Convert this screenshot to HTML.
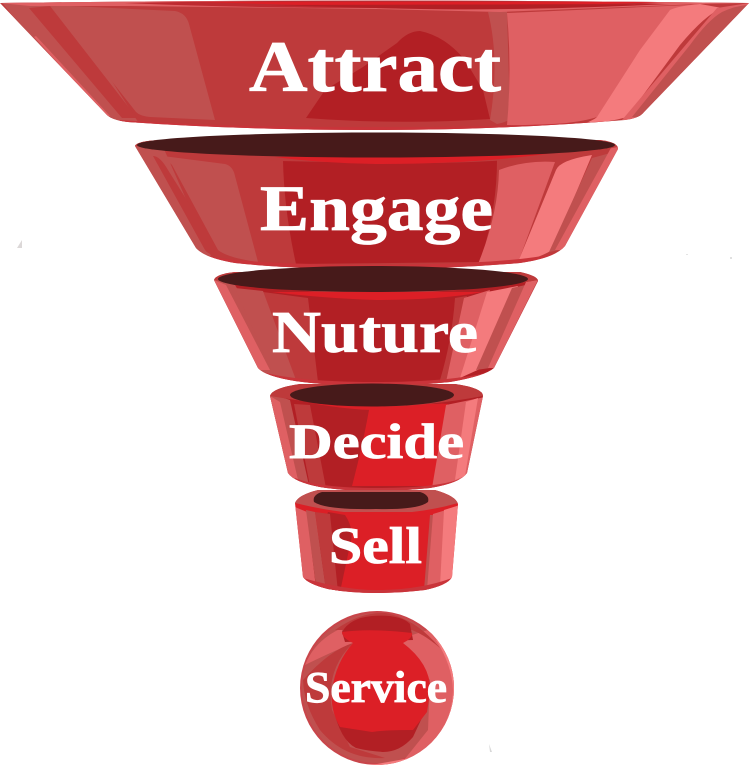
<!DOCTYPE html>
<html><head><meta charset="utf-8">
<style>
html,body{margin:0;padding:0;background:#fff}
svg{display:block}
text{font-family:"Liberation Serif",serif;font-weight:bold;fill:#fff;stroke:#fff;stroke-width:.8px}
</style></head>
<body>
<svg width="749" height="766" viewBox="0 0 749 766" xmlns="http://www.w3.org/2000/svg">
<defs>
<clipPath id="a"><path d="M0 3 Q375 -2 749 3 L644 112 Q640 118 625 120 Q500 130 376 130 Q240 130 128 122 Q112 120 107 115 Z"/></clipPath>
<clipPath id="b"><path d="M135 146 Q137 141 160 140 L600 140 Q618 142 618 149 L565 246 Q555 258 520 263 Q450 269 376 269 Q290 269 235 263 Q205 258 196 248 Z"/></clipPath>
<clipPath id="c"><path d="M214 280 Q216 274 235 272 L520 272 Q538 276 538 281 L494 368 Q485 376 450 382 Q410 386 376 386 Q330 386 295 381 Q265 376 258 368 Z"/></clipPath>
<clipPath id="d"><path d="M270 396 Q272 388 300 384 L455 384 Q483 388 483 396 L467 473 Q460 483 430 488 Q400 491 376 491 Q345 491 320 487 Q294 482 288 473 Z"/></clipPath>
<clipPath id="e"><path d="M295 503 Q298 495 318 490 L435 490 Q456 496 458 504 L452 577 Q448 585 425 590 Q400 593 376 593 Q350 593 328 589 Q308 584 303 577 Z"/></clipPath>
<clipPath id="f"><circle cx="377" cy="688" r="77"/></clipPath>
</defs>

<!-- specks -->
<path d="M22 240 L22 248 L17 248 Z" fill="#dcd8d8"/>
<path d="M489 744 L492 752 L490 752 Z" fill="#d8d8d8"/>
<rect x="686" y="254" width="2" height="1" fill="#e4e4e4"/>
<rect x="730" y="257" width="2" height="2" fill="#e0e0e0"/>

<!-- ATTRACT -->
<g clip-path="url(#a)">
<rect width="749" height="135" fill="#be3a3b"/>
<path d="M0 0 L60 0 L140 125 L100 125 Z" fill="#c0504f"/>
<path d="M36 36 L110 116 L106 116 L34 37 Z" fill="#df6063"/>
<path d="M29 8 L50 6 L137 118 L122 118 Z" fill="#be3a3b"/>
<path d="M50 5 L175 11 Q186 13 189 24 L215 120 L150 117 Q140 116 136 112 L70 28 Z" fill="#c0504f"/>
<path d="M306 118 L325 90 L363 67 L397 43 Q408 31 420 31 Q445 36 465 60 L483 90 L490 119 Q400 125 306 118 Z" fill="#b21f24"/>
<path d="M488 12 L507 10 L510 118 Q508 122 497 124 L490 120 Q500 60 488 12 Z" fill="#c0504f"/>
<path d="M507 13 L690 5 L597 117 Q570 126 507 125 Q512 70 507 13 Z" fill="#df6063"/>
<path d="M670 10 Q678 6 700 4 L722 8 Q705 15 680 45 L627 117 Q610 122 583 124 Q594 120 597 117 L640 50 Z" fill="#f47b7d"/>
<path d="M717 8 L749 3 L749 5 L644 120 L622 120 Z" fill="#df6063"/>
<path d="M722 12 Q735 6 747 5 L643 118 L632 117 L690 45 Q708 20 722 12 Z" fill="#c0504f"/>
<path d="M0 0 L749 0 L749 3 L700 4 L500 12 L376 9 L130 6 L30 6 L0 3 Z" fill="#df6063"/>
<path d="M125 3 Q375 -2 665 3 Q500 10 376 8 Q240 8 125 3 Z" fill="#be2a30"/>
<path d="M200 2 L660 2 Q600 5 500 5 L300 5 Z" fill="#dc1f26"/>
<path d="M270 5 L670 4 Q500 12 376 8 Z" fill="#b21f24"/>
<path d="M120 120 Q240 128 376 127 Q500 128 630 120 L644 135 L100 135 Z" fill="#c9343a"/>
</g>

<!-- ENGAGE -->
<g clip-path="url(#b)">
<rect x="130" y="135" width="495" height="140" fill="#be3a3b"/>
<path d="M130 140 L160 140 L215 265 L190 255 Z" fill="#c0504f"/>
<path d="M153 156 Q160 156 168 170 L218 250 L250 262 Q210 258 205 250 Z" fill="#be3a3b"/>
<path d="M163 156 L225 164 Q233 166 235 176 L258 262 Q228 258 218 250 L172 165 Z" fill="#c0504f"/>
<path d="M283 160 L497 160 Q497 210 480 262 L296 264 Q284 210 283 160 Z" fill="#b21f24"/>
<path d="M499 170 Q525 160 555 162 L519 260 L478 264 Q498 215 499 170 Z" fill="#df6063"/>
<path d="M556 170 Q560 160 592 155 L552 250 Q540 258 518 262 Z" fill="#f47b7d"/>
<path d="M592 158 L614 152 L560 250 L549 252 Z" fill="#c0504f"/>
<path d="M612 146 L620 146 L565 250 L555 250 Z" fill="#df6063"/>
<path d="M135 146 Q250 158 280 161 L376 163 Q520 165 618 147 L618 138 L135 138 Z" fill="#be3a3b"/>
<path d="M275 157 L560 152 Q480 164 376 164 Q320 163 275 157 Z" fill="#dc1f26"/>
<path d="M205 255 Q235 264 376 265 Q520 264 560 252 L565 272 L196 272 Z" fill="#c9343a"/>
</g>
<ellipse cx="376" cy="145" rx="239" ry="12.5" fill="#471a1a"/>

<!-- NUTURE -->
<g clip-path="url(#c)">
<rect x="210" y="266" width="335" height="125" fill="#b21f24"/>
<path d="M210 275 L235 285 L295 385 L250 372 Z" fill="#c0504f"/>
<path d="M214 280 L226 285 L270 370 L258 370 Z" fill="#df6063"/>
<path d="M263 292 L308 298 L318 382 L295 380 Z" fill="#be3a3b"/>
<path d="M235 288 L263 291 L296 380 L272 372 Z" fill="#c0504f"/>
<path d="M455 298 L467 296 L450 380 L440 380 Q452 340 455 298 Z" fill="#be3a3b"/>
<path d="M464 298 L490 290 L464 376 L446 382 Z" fill="#df6063"/>
<path d="M487 292 L518 286 L482 368 L460 378 Z" fill="#f47b7d"/>
<path d="M512 288 L530 284 L490 368 L476 370 Z" fill="#c0504f"/>
<path d="M526 282 L538 280 L494 368 L488 368 Z" fill="#df6063"/>
<path d="M214 280 Q280 292 376 294 Q470 292 538 280 L538 268 L214 268 Z" fill="#be3a3b"/>
<path d="M272 292 L483 292 Q440 300 376 300 Q320 298 272 292 Z" fill="#dc1f26"/>
<path d="M262 372 Q300 382 376 382 Q450 382 490 372 L494 390 L258 390 Z" fill="#c9343a"/>
</g>
<ellipse cx="373" cy="279" rx="155" ry="13" fill="#471a1a"/>

<!-- DECIDE -->
<g clip-path="url(#d)">
<rect x="265" y="380" width="225" height="115" fill="#b21f24"/>
<path d="M370 404 L448 404 L434 486 L352 486 Q364 440 370 404 Z" fill="#dc1f26"/>
<path d="M265 392 L290 400 L310 490 L285 480 Z" fill="#c0504f"/>
<path d="M270 396 L280 402 L298 480 L288 476 Z" fill="#df6063"/>
<path d="M294 404 L310 405 L326 488 L310 486 Z" fill="#be3a3b"/>
<path d="M446 405 L490 396 L470 480 L432 488 Z" fill="#df6063"/>
<path d="M466 402 L478 398 L465 476 L455 480 Z" fill="#f47b7d"/>
<path d="M270 396 Q330 406 376 407 Q430 406 483 396 L483 380 L270 380 Z" fill="#be3a3b"/>
<path d="M310 403 Q350 410 376 410 Q410 410 448 403 Q410 407 376 406 Q340 406 310 403 Z" fill="#dc1f26"/>
<path d="M295 478 Q320 488 376 488 Q440 488 462 478 L467 495 L288 495 Z" fill="#c9343a"/>
</g>
<ellipse cx="372" cy="395" rx="82" ry="11.5" fill="#471a1a"/>

<!-- SELL -->
<g clip-path="url(#e)">
<rect x="290" y="486" width="175" height="110" fill="#dc1f26"/>
<path d="M328 512 L345 515 Q355 530 350 545 L340 592 L300 590 Z" fill="#b21f24"/>
<path d="M290 505 L307 512 L316 588 L298 580 Z" fill="#df6063"/>
<path d="M306 510 L315 512 L326 590 L316 586 Z" fill="#c0504f"/>
<path d="M315 512 L330 514 L338 592 L326 590 Z" fill="#be3a3b"/>
<path d="M430 515 L434 515 L430 590 L424 590 Z" fill="#c0504f"/>
<path d="M433 514 L446 510 L442 586 L427 590 Z" fill="#df6063"/>
<path d="M444 510 L460 505 L454 578 L440 586 Z" fill="#f47b7d"/>
<path d="M295 503 Q340 514 376 514 Q420 514 458 503 L458 486 L295 486 Z" fill="#c0504f"/>
<path d="M328 512 Q376 517 430 512 L376 512 Z" fill="#dc1f26"/>
<path d="M303 578 Q345 590 376 590 Q420 590 452 578 L452 596 L303 596 Z" fill="#c9343a"/>
</g>
<path d="M314 502 Q312 495 322 492 L420 492 Q430 495 428 502 Q418 510 376 509 Q326 510 314 502 Z" fill="#471a1a"/>

<!-- SERVICE -->
<g clip-path="url(#f)">
<rect x="295" y="605" width="165" height="165" fill="#c9454a"/>
<circle cx="377" cy="688" r="75" fill="#c0504f"/>
<path d="M305 665 Q315 640 342 628 L342 634 L353 643 Q325 655 305 665 Z" fill="#df6063"/>
<path d="M412 635 L403 643 L430 680 L428 730 L400 765 L460 765 L460 620 Z" fill="#df6063"/>
<path d="M436 640 Q452 665 453 690 Q452 735 410 758 L377 764 L340 765 L460 770 L460 630 Z" fill="#f47b7d"/>
<path d="M445 660 Q440 690 430 720 L425 745 L440 725 Q452 695 445 660 Z" fill="#df6063"/>
<path d="M303 680 Q330 650 353 643 Q325 670 332 710 L350 747 L385 758 Q345 760 320 730 Q304 705 303 680 Z" fill="#be3a3b"/>
<path d="M335 630 Q360 612 385 613 Q415 618 440 648 Q425 635 412 630 L345 630 Z" fill="#be3a3b"/>
<path d="M342 632 Q350 618 372 616 Q400 614 410 624 L413 640 L345 642 Z" fill="#b21f24"/>
<path d="M333 707 Q340 740 356 748 Q368 751 383 752 Q400 752 413 737 L427 707 Z" fill="#b21f24"/>
<path d="M342 632 Q370 628 412 633 Q413 638 403 643 Q432 665 430 693 L427 712 L413 730 Q385 730 372 732 L340 727 Q330 710 332 690 Q336 662 353 643 Q342 638 342 632 Z" fill="#dc1f26"/>
</g>

<!-- labels -->
<text x="249" y="91" font-size="72" textLength="252" lengthAdjust="spacingAndGlyphs">Attract</text>
<text x="260" y="230" font-size="65" textLength="233" lengthAdjust="spacingAndGlyphs">Engage</text>
<text x="272" y="352" font-size="59" textLength="206" lengthAdjust="spacingAndGlyphs">Nuture</text>
<text x="289" y="458" font-size="50" textLength="175" lengthAdjust="spacingAndGlyphs">Decide</text>
<text x="329" y="563" font-size="52" textLength="93" lengthAdjust="spacingAndGlyphs">Sell</text>
<text x="305" y="702" font-size="44" textLength="142" lengthAdjust="spacingAndGlyphs">Service</text>
</svg>
</body></html>
